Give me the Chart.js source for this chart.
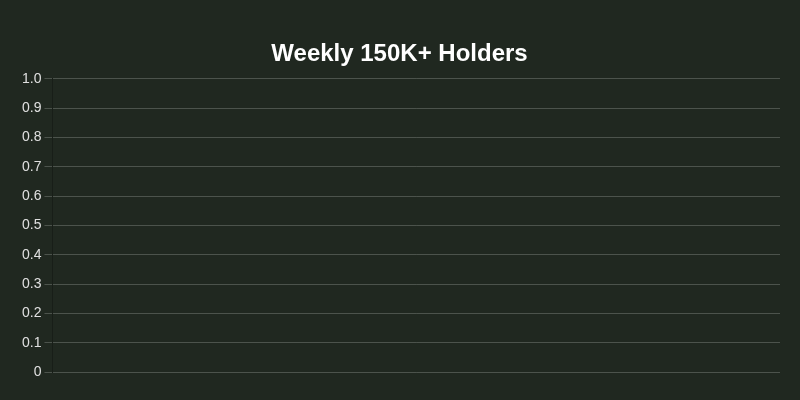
<!DOCTYPE html>
<html>
<head>
<meta charset="utf-8">
<script src="https://cdn.jsdelivr.net/npm/chart.js@4"></script>
<style>
html,body{margin:0;padding:0;background:#202820;}
#wrap{width:800px;height:400px;}
</style>
</head>
<body>
<div id="wrap"><canvas id="c"></canvas></div>
<script>
const chartTitle = "Weekly 150K+ Holders";
const categories = [];
const holderValues = [];
const yTickMin = 0;
const yTickMax = 1;
const yTickStep = 0.1;

const bgPlugin = {
  id: 'bg',
  beforeDraw(chart) {
    const ctx = chart.ctx;
    ctx.save();
    ctx.fillStyle = '#202820';
    ctx.fillRect(0, 0, chart.width, chart.height);
    ctx.restore();
  }
};

new Chart(document.getElementById('c'), {
  type: 'line',
  data: {
    labels: categories,
    datasets: [{
      label: chartTitle,
      data: holderValues,
      borderColor: '#4caf50',
      backgroundColor: 'rgba(76,175,80,0.2)'
    }]
  },
  options: {
    responsive: true,
    maintainAspectRatio: false,
    animation: false,
    layout: { padding: { top: 30, left: 19, right: 20, bottom: 28 } },
    plugins: {
      legend: { display: false },
      title: {
        display: true,
        text: chartTitle,
        color: '#ffffff',
        font: { family: 'Liberation Sans, Arial, sans-serif', size: 24, weight: 'bold' },
        padding: { top: 10, bottom: 10 }
      }
    },
    scales: {
      x: { display: false },
      y: {
        min: yTickMin,
        max: yTickMax,
        ticks: {
          stepSize: yTickStep,
          color: '#e0e0e0',
          font: { family: 'Liberation Sans, Arial, sans-serif', size: 14 }
        },
        grid: { color: 'rgba(255,255,255,0.2)' },
        border: { color: 'rgba(0,0,0,0.25)' }
      }
    }
  },
  plugins: [bgPlugin]
});
</script>
</body>
</html>
